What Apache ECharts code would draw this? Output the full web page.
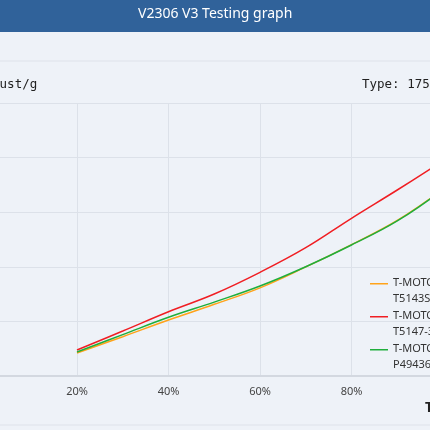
<!DOCTYPE html>
<html>
<head>
<meta charset="utf-8">
<script src="https://cdn.jsdelivr.net/npm/echarts@6/dist/echarts.min.js"></script>
<style>
  html, body { margin: 0; padding: 0; background: #eef2f8; overflow: hidden; }
  body { width: 430px; height: 430px; position: relative; }
  #main { position: absolute; left: -30px; top: 0; width: 475px; height: 430px; }
</style>
</head>
<body>
<div id="main"></div>
<script>
var chartDom = document.getElementById("main");
var myChart = echarts.init(chartDom);
var option;

// the chart is a crop of a wider picture: the canvas starts 30px left of the page
var OFF = 30;

// throttle (%)
var throttle = [20, 30, 40, 50, 60, 70, 80, 90, 100];
var seriesNames = [
  "T-MOTOR V2306 V3 KV1750\nT5143S-3",
  "T-MOTOR V2306 V3 KV1750\nT5147-3",
  "T-MOTOR V2306 V3 KV1750\nP49436"
];
// thrust (g)
var thrustA = [842, 1440, 2051, 2626, 3230, 3995, 4815, 5700, 6840];
var thrustB = [952, 1648, 2355, 3004, 3798, 4700, 5777, 6813, 7880];
var thrustC = [879, 1516, 2150, 2707, 3297, 4004, 4800, 5680, 6830];
var colors = ["#ffa31a", "#f01e23", "#1fae3c"];

function pairs(ys) {
  return throttle.map(function (x, i) { return [x, ys[i]]; });
}

// legend icon: a thin stripe at the top of a 18x16 box, so it sits on the first text line
var legendIcon = "path://M0,0 L18,0 L18,1.4 L0,1.4 Z M0,16 L0.01,16";

option = {
  backgroundColor: "#eef2f8",
  color: colors,
  animation: false,
  graphic: [
    { type: "rect", shape: { x: 0, y: 0, width: 475, height: 32 }, style: { fill: "#30629a" } },
    { type: "rect", shape: { x: 0, y: 60.5, width: 475, height: 1 }, style: { fill: "#dde2ea" } },
    { type: "rect", shape: { x: 0, y: 424.5, width: 475, height: 1 }, style: { fill: "#dde2ea" } }
  ],
  title: [
    {
      text: "V2306 V3 Testing graph",
      left: 138 + OFF, top: 7, padding: 0,
      textStyle: { color: "#ffffff", fontSize: 14, fontWeight: "normal", fontFamily: "Noto Sans" }
    },
    {
      text: "Thrust/g",
      left: -23 + OFF, top: 78, padding: 0,
      textStyle: { color: "#222222", fontSize: 12.5, fontWeight: "normal", fontFamily: "DejaVu Sans Mono" }
    },
    {
      text: "Type: 1750KV",
      left: 362 + OFF, top: 78, padding: 0,
      textStyle: { color: "#222222", fontSize: 12.5, fontWeight: "normal", fontFamily: "DejaVu Sans Mono" }
    },
    {
      text: "Throttle",
      left: 425 + OFF, top: 401, padding: 0,
      textStyle: { color: "#222222", fontSize: 14, fontWeight: "bold", fontFamily: "Noto Sans" }
    }
  ],
  legend: {
    orient: "vertical",
    left: 370 + OFF, top: 275,
    padding: 0,
    itemWidth: 18, itemHeight: 16, itemGap: 1,
    icon: legendIcon,
    textStyle: { color: "#333333", fontSize: 11, lineHeight: 16, fontFamily: "Noto Sans" },
    data: seriesNames
  },
  grid: { left: OFF - 14.5, right: 2, top: 103, bottom: 54, containLabel: false },
  xAxis: {
    type: "value",
    min: 0, max: 100, interval: 20,
    axisLine: { show: true, lineStyle: { color: "#d3d8e0", width: 2 } },
    axisTick: { show: false },
    axisLabel: {
      formatter: "{value}%", color: "#444444", fontSize: 11, margin: 10, fontFamily: "Noto Sans",
      showMinLabel: false, showMaxLabel: false
    },
    splitLine: { show: true, lineStyle: { color: "#dce1e9", width: 1 } }
  },
  yAxis: {
    type: "value",
    min: 0, max: 10000, interval: 2000,
    axisLine: { show: false },
    axisTick: { show: false },
    axisLabel: { show: false },
    splitLine: { show: true, lineStyle: { color: "#dce1e9", width: 1 } }
  },
  series: [
    { name: seriesNames[0], type: "line", smooth: 0.4, symbol: "none", lineStyle: { width: 1.5 }, data: pairs(thrustA) },
    { name: seriesNames[1], type: "line", smooth: 0.4, symbol: "none", lineStyle: { width: 1.5 }, data: pairs(thrustB) },
    { name: seriesNames[2], type: "line", smooth: 0.4, symbol: "none", lineStyle: { width: 1.5 }, data: pairs(thrustC) }
  ]
};

option && myChart.setOption(option);
</script>
</body>
</html>
